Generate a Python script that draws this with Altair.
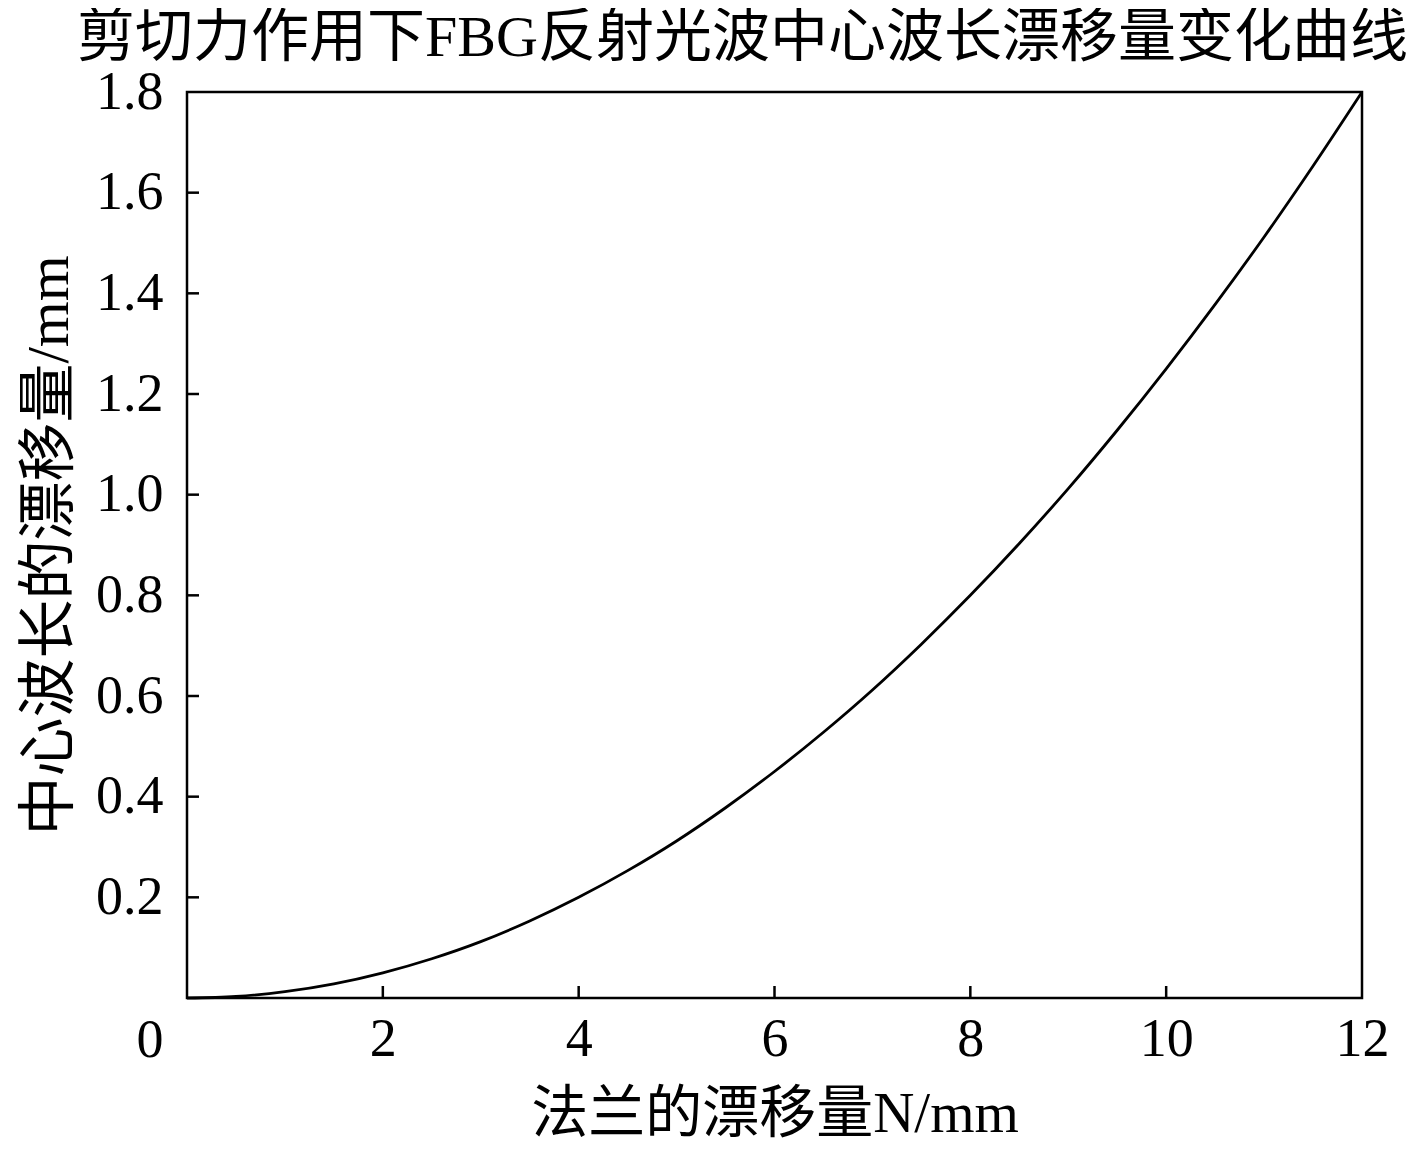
import altair as alt
import pandas as pd

# Data
flange_drift = [0, 0.5, 1, 1.5, 2, 2.5, 3, 3.5, 4, 4.5, 5, 5.5, 6, 6.5, 7, 7.5,
                8, 8.5, 9, 9.5, 10, 10.5, 11, 11.5, 12]
wavelength_drift = [0.0, 0.003, 0.0125, 0.028, 0.05, 0.078, 0.112, 0.153, 0.2,
                    0.253, 0.312, 0.378, 0.45, 0.528, 0.612, 0.703, 0.8, 0.903,
                    1.012, 1.128, 1.25, 1.378, 1.512, 1.653, 1.8]
x_ticks = [2, 4, 6, 8, 10, 12]
y_ticks = [0.2, 0.4, 0.6, 0.8, 1.0, 1.2, 1.4, 1.6, 1.8]
x_inner_ticks = [2, 4, 6, 8, 10]
y_inner_ticks = [0.2, 0.4, 0.6, 0.8, 1.0, 1.2, 1.4, 1.6]

TITLE = "剪切力作用下FBG反射光波中心波长漂移量变化曲线"
X_TITLE = "法兰的漂移量N/mm"
Y_TITLE = "中心波长的漂移量/mm"

W, H = 1175, 906
FONT = "Liberation Serif, Noto Sans CJK SC"

df = pd.DataFrame({"x": flange_drift, "y": wavelength_drift})
dx_t = pd.DataFrame({"x": x_inner_ticks})
dy_t = pd.DataFrame({"y": y_inner_ticks})

xscale = alt.Scale(domain=[0, 12], nice=False, zero=False)
yscale = alt.Scale(domain=[0, 1.8], nice=False, zero=False)

line = alt.Chart(df).mark_line(color="black", strokeWidth=2.8, interpolate="monotone").encode(
    x=alt.X("x:Q", scale=xscale,
            axis=alt.Axis(values=x_ticks, title=X_TITLE, domain=False, tickSize=0,
                          grid=False, labelPadding=14, format="d", labelFlush=False,
                          titlePadding=20, titleFontSize=57)),
    y=alt.Y("y:Q", scale=yscale,
            axis=alt.Axis(values=y_ticks, title=Y_TITLE, domain=False, tickSize=0,
                          grid=False, labelPadding=24, format=".1f", labelFlush=False,
                          titlePadding=16, titleFontSize=59)),
)

xt = alt.Chart(dx_t).mark_rule(color="black", strokeWidth=2.5).encode(
    x=alt.X("x:Q", scale=xscale),
    y=alt.value(H),
    y2=alt.value(H - 12),
)
yt = alt.Chart(dy_t).mark_rule(color="black", strokeWidth=2.5).encode(
    y=alt.Y("y:Q", scale=yscale),
    x=alt.value(0),
    x2=alt.value(12),
)
zero_label = alt.Chart(pd.DataFrame({"x": [0], "t": ["0"]})).mark_text(
    font=FONT, fontSize=54, color="black", dx=-37, baseline="top", dy=16
).encode(
    x=alt.X("x:Q", scale=xscale),
    y=alt.value(H),
    text="t:N",
)

chart = alt.layer(line, xt, yt, zero_label).properties(
    width=W, height=H,
    background="white",
    title=alt.TitleParams(TITLE, font=FONT, fontSize=58, fontWeight="normal",
                          color="black", anchor="middle", dx=-32, offset=-3),
    autosize=alt.AutoSizeParams(type="none"),
    padding={"left": 179, "top": 84, "right": 47, "bottom": 151},
).configure_view(
    stroke="black", strokeWidth=2.5
).configure_axis(
    labelFont=FONT, labelFontSize=54, labelColor="black",
    titleFont=FONT, titleFontSize=54, titleFontWeight="normal", titleColor="black",
)

chart.save("out.html", embed_options={"renderer": "svg", "actions": False})
